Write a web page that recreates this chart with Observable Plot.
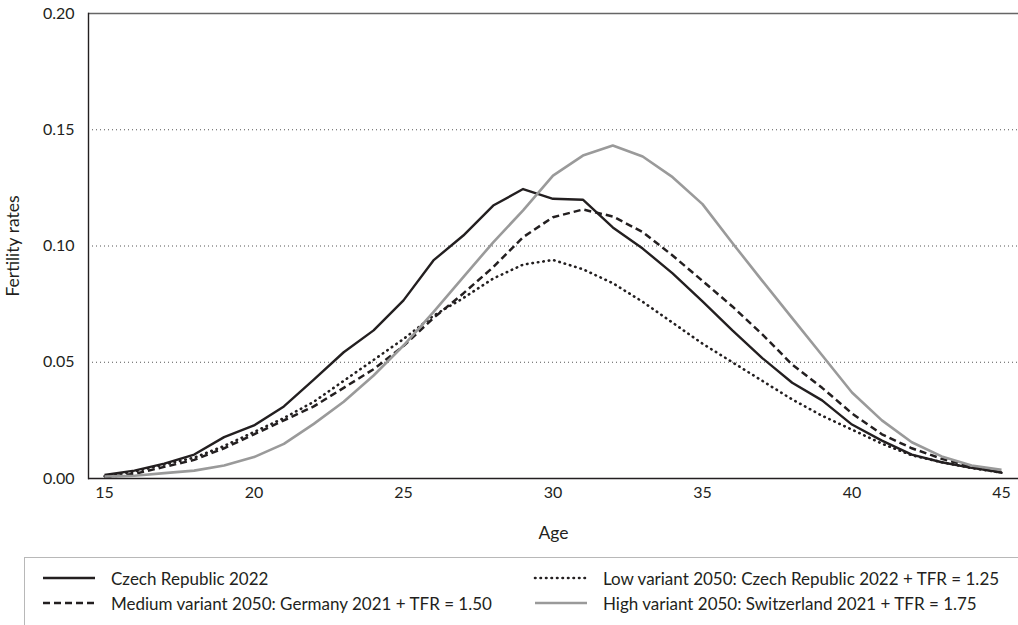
<!DOCTYPE html>
<html>
<head>
<meta charset="utf-8">
<script src="https://cdn.jsdelivr.net/npm/d3@7"></script>
<script src="https://cdn.jsdelivr.net/npm/@observablehq/plot@0.6"></script>
<style>
  body { margin: 0; background: #fff; font-family: Lato, "Open Sans", sans-serif; color: #231f20; }
  #wrap { position: relative; width: 1018px; height: 625px; overflow: hidden; }
  #legend { position: absolute; left: 24px; top: 557px; width: 1100px; height: 120px;
            border-top: 1.5px solid #b8b8b8; border-left: 1.5px solid #b8b8b8; }
  .item { position: absolute; height: 20px; display: flex; align-items: center; font-size: 17px; white-space: nowrap; }
  .item svg { display: block; margin-right: 14px; }
</style>
</head>
<body>
<div id="wrap"></div>
<script>
// Age-specific fertility rates, ages 15–45
const ages = d3.range(15, 46);

const czech2022 = [0.0015, 0.0034, 0.0064, 0.0103, 0.0178, 0.0228, 0.031, 0.0425, 0.0543, 0.0637,
  0.0766, 0.0938, 0.1045, 0.1174, 0.1245, 0.1203, 0.1199, 0.108, 0.0989, 0.0882,
  0.0762, 0.0637, 0.0518, 0.0412, 0.0336, 0.0232, 0.0163, 0.0103, 0.007, 0.0046, 0.0027];

const lowVariant = [0.001, 0.003, 0.006, 0.009, 0.014, 0.020, 0.026, 0.033, 0.042, 0.051,
  0.060, 0.070, 0.0776, 0.086, 0.092, 0.094, 0.090, 0.084, 0.076, 0.067,
  0.058, 0.050, 0.042, 0.034, 0.027, 0.021, 0.015, 0.010, 0.007, 0.0045, 0.0025];

const mediumVariant = [0.0005, 0.002, 0.005, 0.008, 0.013, 0.019, 0.025, 0.031, 0.039, 0.047,
  0.057, 0.069, 0.0796, 0.0909, 0.1038, 0.1124, 0.1157, 0.1127, 0.106, 0.0959,
  0.085, 0.074, 0.062, 0.049, 0.039, 0.028, 0.019, 0.013, 0.0085, 0.005, 0.0025];

const highVariant = [0.0008, 0.0012, 0.0023, 0.0034, 0.0056, 0.0092, 0.0149, 0.0235, 0.033, 0.0443,
  0.0572, 0.0716, 0.0866, 0.1016, 0.1153, 0.1303, 0.1389, 0.1432, 0.1385, 0.1296,
  0.118, 0.1013, 0.085, 0.069, 0.053, 0.037, 0.025, 0.0156, 0.0095, 0.0056, 0.0037];

const seriesNames = [
  "Czech Republic 2022",
  "Low variant 2050: Czech Republic 2022 + TFR = 1.25",
  "Medium variant 2050: Germany 2021 + TFR = 1.50",
  "High variant 2050: Switzerland 2021 + TFR = 1.75"
];
const seriesValues = [czech2022, lowVariant, mediumVariant, highVariant];

const xTicks = [15, 20, 25, 30, 35, 40, 45];
const yTicks = [0, 0.05, 0.10, 0.15, 0.20];
const gridTicks = [0.05, 0.10, 0.15];

// line styling per series
const styles = [
  {stroke: "#231f20", strokeWidth: 2.4, strokeDasharray: null, strokeLinecap: "butt"},
  {stroke: "#231f20", strokeWidth: 2.6, strokeDasharray: "0.5,5", strokeLinecap: "round"},
  {stroke: "#231f20", strokeWidth: 2.5, strokeDasharray: "7,4", strokeLinecap: "butt"},
  {stroke: "#9a9a9a", strokeWidth: 2.6, strokeDasharray: null, strokeLinecap: "butt"}
];

const rows = seriesNames.flatMap((name, s) =>
  ages.map((age, i) => ({series: name, age, rate: seriesValues[s][i]})));

const chart = Plot.plot({
  width: 1018,
  height: 550,
  marginLeft: 88,
  marginRight: 0,
  marginTop: 13,
  marginBottom: 72,
  style: {fontFamily: "Lato, 'Open Sans', sans-serif", fontSize: "16px", color: "#231f20", background: "#fff"},
  x: {domain: [15, 45], insetLeft: 16, insetRight: 17},
  y: {domain: [0, 0.2]},
  marks: [
    Plot.ruleY(gridTicks, {stroke: "#555", strokeWidth: 1, strokeDasharray: "1,3"}),
    Plot.ruleY([0.2], {stroke: "#666", strokeWidth: 1.6}),
    Plot.frame({anchor: "left", stroke: "#231f20", strokeWidth: 1.4}),
    ...seriesNames.map((name, s) =>
      Plot.lineY(rows.filter(d => d.series === name), {
        x: "age", y: "rate", ...styles[s], strokeLinejoin: "round"
      })),
    Plot.ruleY([0], {stroke: "#231f20", strokeWidth: 1.4}),
    Plot.axisX({ticks: xTicks, tickSize: 0, tickPadding: 8, label: "Age",
      labelAnchor: "center", labelArrow: "none", labelOffset: 60}),
    Plot.axisY({ticks: yTicks, tickFormat: d3.format(".2f"), tickSize: 0, tickPadding: 14,
      label: "Fertility rates", labelAnchor: "center", labelArrow: "none", labelOffset: 82})
  ]
});

// axis titles are set a touch larger than the tick labels
d3.select(chart).selectAll('g[aria-label$="axis label"]').attr("font-size", 17.5);

const wrap = document.getElementById("wrap");
wrap.appendChild(chart);

// Legend below the plot: two columns, two rows
const legend = document.createElement("div");
legend.id = "legend";
wrap.appendChild(legend);
const slots = [
  {col: 0, row: 0}, {col: 1, row: 0}, {col: 0, row: 1}, {col: 1, row: 1}
];
const colLeft = [16, 508];
const rowTop = [10, 35];
seriesNames.forEach((name, s) => {
  const st = styles[s];
  const item = document.createElement("div");
  item.className = "item";
  item.style.left = colLeft[slots[s].col] + "px";
  item.style.top = rowTop[slots[s].row] + "px";
  const svg = d3.create("svg").attr("width", 56).attr("height", 20);
  svg.append("line").attr("x1", 2).attr("x2", 54).attr("y1", 10).attr("y2", 10)
    .attr("stroke", st.stroke).attr("stroke-width", st.strokeWidth)
    .attr("stroke-dasharray", st.strokeDasharray).attr("stroke-linecap", st.strokeLinecap);
  item.appendChild(svg.node());
  const label = document.createElement("span");
  label.textContent = name;
  item.appendChild(label);
  legend.appendChild(item);
});
</script>
</body>
</html>
